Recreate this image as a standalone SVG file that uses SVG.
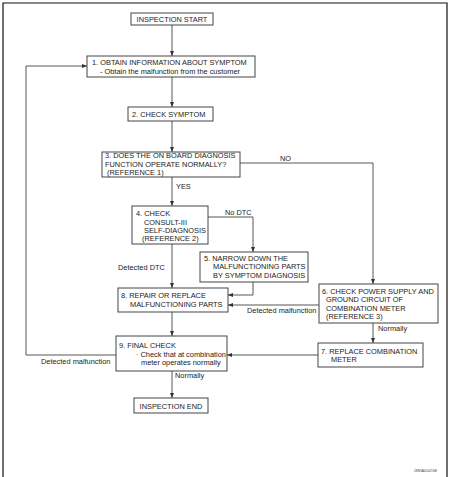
<svg xmlns="http://www.w3.org/2000/svg" width="450" height="477" viewBox="0 0 450 477">
<defs>
<marker id="ah" viewBox="0 0 10 10" refX="10" refY="5" markerWidth="5" markerHeight="5" orient="auto" markerUnits="userSpaceOnUse">
<path d="M0,1 L10,5 L0,9 z" fill="#333"/>
</marker>
<style>
.box{fill:#fff;stroke:#444;stroke-width:1}
.t{font-family:"Liberation Sans",Arial,sans-serif;font-size:7.4px;fill:#222}
.s{font-family:"Liberation Sans",Arial,sans-serif;font-size:3.6px;fill:#444}
.c{fill:none;stroke:#444;stroke-width:0.9}
.ca{fill:none;stroke:#444;stroke-width:0.9;marker-end:url(#ah)}
</style>
</defs>
<rect x="0" y="0" width="450" height="477" fill="#fff"/>
<path d="M3,480 V3 H447 V480" fill="none" stroke="#111" stroke-width="1.2"/>

<g id="connectors">
<path class="ca" d="M172,25 V56"/>
<path class="ca" d="M172,77 V107"/>
<path class="ca" d="M172,121 V152"/>
<path class="ca" d="M172,177 V206"/>
<path class="ca" d="M240,163 H373 V284"/>
<path class="ca" d="M208,217 H253 V252"/>
<path class="ca" d="M172,244 V288"/>
<path class="ca" d="M253,282 V295 H228"/>
<path class="ca" d="M319,305 H228"/>
<path class="ca" d="M373,323 V343"/>
<path class="ca" d="M318,355 H227"/>
<path class="ca" d="M172,312 V336"/>
<path class="ca" d="M116,355 H26 V66 H87"/>
<path class="ca" d="M172,371 V398"/>
<text class="t" x="176" y="189">YES</text>
<text class="t" x="280" y="161">NO</text>
<text class="t" x="225" y="215">No DTC</text>
<text class="t" x="118" y="270">Detected DTC</text>
<text class="t" x="247" y="312.5">Detected malfunction</text>
<text class="t" x="378" y="330.5">Normally</text>
<text class="t" x="41" y="364">Detected malfunction</text>
<text class="t" x="175" y="378">Normally</text>
</g>

<g id="start">
<rect class="box" x="131" y="13" width="82" height="12"/>
<text class="t" x="172" y="21.5" text-anchor="middle">INSPECTION START</text>
</g>
<g id="n1">
<rect class="box" x="87" y="56" width="168" height="21"/>
<text class="t" x="92" y="65">1. OBTAIN INFORMATION ABOUT SYMPTOM</text>
<text class="t" x="100" y="73.5">- Obtain the malfunction from the customer</text>
</g>
<g id="n2">
<rect class="box" x="128" y="107" width="85" height="14"/>
<text class="t" x="132" y="117">2. CHECK SYMPTOM</text>
</g>
<g id="n3">
<rect class="box" x="102" y="152" width="138" height="25"/>
<text class="t" x="105" y="158">3. DOES THE ON BOARD DIAGNOSIS</text>
<text class="t" x="105" y="166.5">FUNCTION OPERATE NORMALLY?</text>
<text class="t" x="107" y="175">(REFERENCE 1)</text>
</g>
<g id="n4">
<rect class="box" x="132" y="206" width="76" height="38"/>
<text class="t" x="136" y="216">4. CHECK</text>
<text class="t" x="144" y="224.5">CONSULT-III</text>
<text class="t" x="144" y="233">SELF-DIAGNOSIS</text>
<text class="t" x="142" y="241">(REFERENCE 2)</text>
</g>
<g id="n5">
<rect class="box" x="200" y="252" width="108" height="30"/>
<text class="t" x="204" y="261">5. NARROW DOWN THE</text>
<text class="t" x="213" y="269.3">MALFUNCTIONING PARTS</text>
<text class="t" x="213" y="277.6">BY SYMPTOM DIAGNOSIS</text>
</g>
<g id="n8">
<rect class="box" x="118" y="288" width="110" height="24"/>
<text class="t" x="121" y="298">8. REPAIR OR REPLACE</text>
<text class="t" x="130" y="306.5">MALFUNCTIONING PARTS</text>
</g>
<g id="n6">
<rect class="box" x="319" y="284" width="119" height="39"/>
<text class="t" x="322" y="294">6. CHECK POWER SUPPLY AND</text>
<text class="t" x="326" y="302.3">GROUND CIRCUIT OF</text>
<text class="t" x="326" y="310.6">COMBINATION METER</text>
<text class="t" x="326" y="319">(REFERENCE 3)</text>
</g>
<g id="n7">
<rect class="box" x="318" y="343" width="105" height="24"/>
<text class="t" x="321" y="354">7. REPLACE COMBINATION</text>
<text class="t" x="331" y="362">METER</text>
</g>
<g id="n9">
<rect class="box" x="116" y="336" width="111" height="35"/>
<text class="t" x="119" y="348">9. FINAL CHECK</text>
<text class="t" x="136" y="356.5">· Check that at combination</text>
<text class="t" x="141" y="364.5">meter operates normally</text>
</g>
<g id="end">
<rect class="box" x="134" y="398" width="74" height="15"/>
<text class="t" x="171" y="408.5" text-anchor="middle">INSPECTION END</text>
</g>
<text class="s" x="437" y="472" text-anchor="end">JSNIA0542GB</text>
</svg>
